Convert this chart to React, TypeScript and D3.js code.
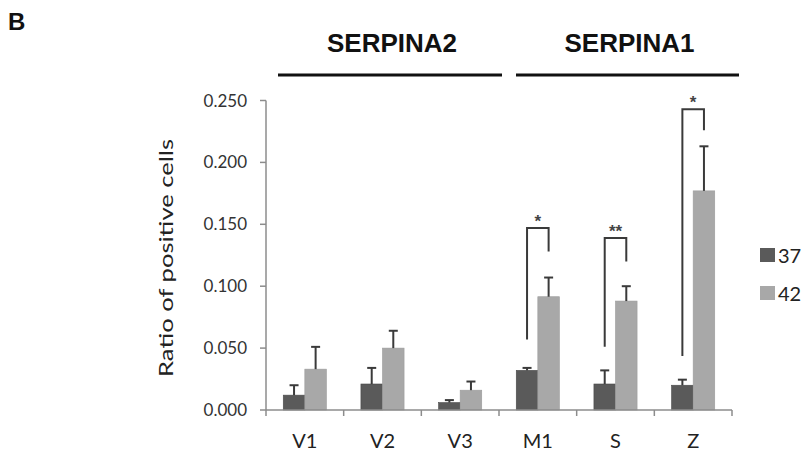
import React from "react";
import * as d3 from "d3";

const categories = ["V1", "V2", "V3", "M1", "S", "Z"];
const seriesNames = ["37", "42"];
const values37 = [0.012, 0.021, 0.006, 0.032, 0.021, 0.020];
const errors37 = [0.008, 0.013, 0.002, 0.002, 0.011, 0.0045];
const values42 = [0.033, 0.050, 0.016, 0.0915, 0.088, 0.177];
const errors42 = [0.018, 0.014, 0.007, 0.0155, 0.012, 0.036];
const yTicks = [0, 0.05, 0.1, 0.15, 0.2, 0.25];
const groupNames = ["SERPINA2", "SERPINA1"];
const groupCats = [["V1", "V2", "V3"], ["M1", "S", "Z"]];
const sigCats = ["M1", "S", "Z"];
const sigLabels = ["*", "**", "*"];
const sigTop = [0.147, 0.139, 0.243];
const sigLeftBottom = [0.057, 0.051, 0.0436];
const sigRightBottom = [0.128, 0.120, 0.226];

const COLORS = ["#5a5a5a", "#a8a8a8"];
const FONT = "Lato, 'Open Sans', sans-serif";

export default function App() {
  const x = d3.scaleBand<string>().domain(categories).range([266, 732]).padding(0);
  const bw = x.bandwidth();
  const x1 = d3.scaleBand<string>().domain(seriesNames).range([0, bw]).paddingInner(0).paddingOuter(0.8);
  const y = d3.scaleLinear().domain([0, 0.25]).range([410, 100.5]);
  const series = [
    { name: seriesNames[0], vals: values37, errs: errors37 },
    { name: seriesNames[1], vals: values42, errs: errors42 },
  ];
  const barCenter = (cat: string, s: string) => (x(cat) ?? 0) + (x1(s) ?? 0) + x1.bandwidth() / 2;

  const headerOffsets = [[12, 3], [17, 7]];

  return (
    <svg width={804} height={453} style={{ position: "absolute", left: 0, top: 0, background: "#fff" }}>
      <rect x={0} y={0} width={804} height={453} fill="#fff" />
      <text x={8} y={30} fontFamily="'Liberation Sans', Arial, sans-serif" fontWeight="bold" fontSize={24} fill="#111">B</text>

      {groupNames.map((g, i) => {
        const cats = groupCats[i];
        const x0 = (x(cats[0]) ?? 0) + headerOffsets[i][0];
        const xEnd = (x(cats[cats.length - 1]) ?? 0) + bw + headerOffsets[i][1];
        return (
          <g key={g}>
            <text x={(x0 + xEnd) / 2 + 2} y={51.5} textAnchor="middle" fontFamily="'Liberation Sans', Arial, sans-serif" fontWeight="bold" fontSize={26} fill="#111">{g}</text>
            <line x1={x0} x2={xEnd} y1={75} y2={75} stroke="#111" strokeWidth={3.2} />
          </g>
        );
      })}

      {/* y axis */}
      <line x1={266} x2={266} y1={y(0.25)} y2={416} stroke="#8c8c8c" strokeWidth={1.5} />
      {yTicks.map((t) => (
        <g key={t}>
          <line x1={260} x2={266} y1={y(t)} y2={y(t)} stroke="#8c8c8c" strokeWidth={1.5} />
          <text x={247} y={y(t) + 6} textAnchor="end" fontFamily={FONT} fontSize={17} fill="#333">{d3.format(".3f")(t)}</text>
        </g>
      ))}
      <text transform={`translate(173,258) rotate(-90)`} textAnchor="middle" fontFamily={FONT} fontSize={20} fill="#222" textLength={238} lengthAdjust="spacingAndGlyphs">Ratio of positive cells</text>

      {/* bars */}
      {series.map((s, si) =>
        categories.map((c, ci) => (
          <rect key={s.name + c} x={(x(c) ?? 0) + (x1(s.name) ?? 0)} width={x1.bandwidth()} y={y(s.vals[ci])} height={y(0) - y(s.vals[ci])} fill={COLORS[si]} stroke={si === 0 ? "#4a4a4a" : "#9c9c9c"} strokeWidth={0.6} />
        ))
      )}
      {/* error bars */}
      {series.map((s) =>
        categories.map((c, ci) => {
          const cx = barCenter(c, s.name);
          const top = y(s.vals[ci] + s.errs[ci]);
          return (
            <g key={"e" + s.name + c} stroke="#3a3a3a" strokeWidth={2}>
              <line x1={cx} x2={cx} y1={y(s.vals[ci])} y2={top} />
              <line x1={cx - 4.5} x2={cx + 4.5} y1={top} y2={top} />
            </g>
          );
        })
      )}

      {/* x axis */}
      <line x1={266} x2={732} y1={410} y2={410} stroke="#8c8c8c" strokeWidth={1.5} />
      {categories.map((c) => (
        <line key={"t" + c} x1={(x(c) ?? 0) + bw} x2={(x(c) ?? 0) + bw} y1={410} y2={416} stroke="#8c8c8c" strokeWidth={1.5} />
      ))}
      {categories.map((c) => (
        <text key={"l" + c} x={(x(c) ?? 0) + bw / 2} y={448} textAnchor="middle" fontFamily={FONT} fontSize={20} fill="#222">{c}</text>
      ))}

      {/* significance brackets */}
      {sigCats.map((c, i) => {
        const xl = barCenter(c, seriesNames[0]);
        const xr = barCenter(c, seriesNames[1]);
        return (
          <g key={"sig" + c}>
            <path d={`M${xl},${y(sigLeftBottom[i])}V${y(sigTop[i])}H${xr}V${y(sigRightBottom[i])}`} fill="none" stroke="#3a3a3a" strokeWidth={2} />
            <text x={(xl + xr) / 2} y={y(sigTop[i]) - 1} textAnchor="middle" fontFamily="'Liberation Sans', Arial, sans-serif" fontWeight="bold" fontSize={17} fill="#444">{sigLabels[i]}</text>
          </g>
        );
      })}

      {/* legend */}
      {seriesNames.map((s, i) => (
        <g key={"lg" + s} transform={`translate(760,${248 + i * 38})`}>
          <rect x={0} y={0} width={15} height={14} fill={COLORS[i]} />
          <text x={18} y={14.5} fontFamily={FONT} fontSize={20} fill="#222">{s}</text>
        </g>
      ))}
    </svg>
  );
}
